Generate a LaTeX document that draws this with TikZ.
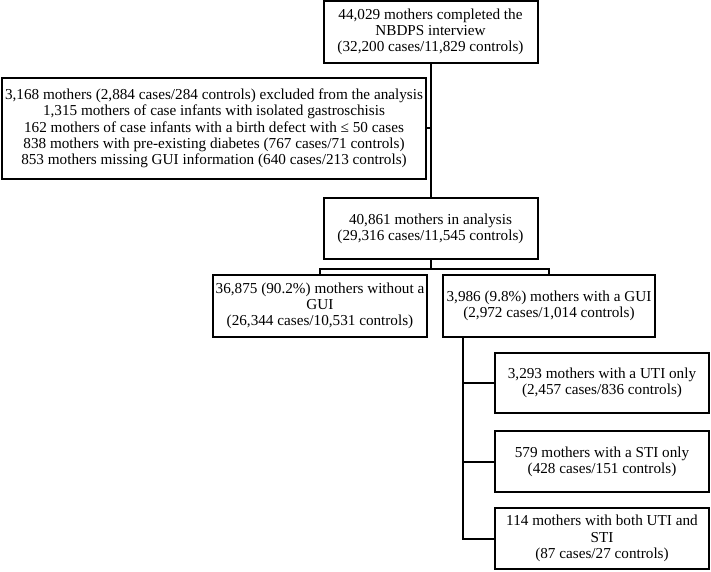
\documentclass[tikz,border=0pt]{standalone}
\usepackage{fontspec}
\setmainfont{Liberation Serif}
\usepackage{tikz}
\usetikzlibrary{positioning,calc}

\begin{document}
\begin{tikzpicture}[x=1pt,y=-1pt]
    \tikzset{box/.style = {shape=rectangle,draw,line width=2pt,align=center,inner sep=1pt,
        minimum width=214pt,font=\fontsize{15.2}{16.3}\selectfont}}
    \tikzset{edge/.style = {-,line width=2pt}}
    \useasboundingbox (0,0) rectangle (711,572);

    % boxes
    \node[box,minimum height=62pt] (top) at (430.5,32)
      {44,029 mothers completed the\\NBDPS interview\\(32,200 cases/11,829 controls)};
    \node[box,minimum width=424pt,minimum height=101pt] (excl) at (214,128.5)
      {3,168 mothers (2,884 cases/284 controls) excluded from the analysis\\
       1,315 mothers of case infants with isolated gastroschisis\\
       162 mothers of case infants with a birth defect with ≤ 50 cases\\
       838 mothers with pre-existing diabetes (767 cases/71 controls)\\
       853 mothers missing GUI information (640 cases/213 controls)};
    \node[box,minimum height=61pt] (analysis) at (430.5,228.5)
      {40,861 mothers in analysis\\(29,316 cases/11,545 controls)};
    \node[box,minimum height=62pt] (nogui) at (320,306)
      {36,875 (90.2\%) mothers without a\\GUI\\(26,344 cases/10,531 controls)};
    \node[box,minimum width=212pt,minimum height=62pt] (gui) at (549,306)
      {3,986 (9.8\%) mothers with a GUI\\(2,972 cases/1,014 controls)};
    \node[box,minimum height=60pt] (uti) at (602,383)
      {3,293 mothers with a UTI only\\(2,457 cases/836 controls)};
    \node[box,minimum height=61pt] (sti) at (602,461.5)
      {579 mothers with a STI only\\(428 cases/151 controls)};
    \node[box,minimum height=61pt] (both) at (602,538.5)
      {114 mothers with both UTI and\\STI\\(87 cases/27 controls)};

    % edges
    \draw[edge] (top) to (analysis);
    \draw[edge] (excl.east) to (excl.east -| top.south);
    \coordinate (split) at ($(analysis.south)+(0,9)$);
    \foreach \y in {nogui,gui} {\draw[edge] (analysis.south) -- (split) -| (\y.north);}
    \coordinate (trunk) at ($(gui.south west)+(21,0)$);
    \foreach \y in {uti,sti,both} {\draw[edge] (trunk) |- (\y.west);}

  \end{tikzpicture}
\end{document}
